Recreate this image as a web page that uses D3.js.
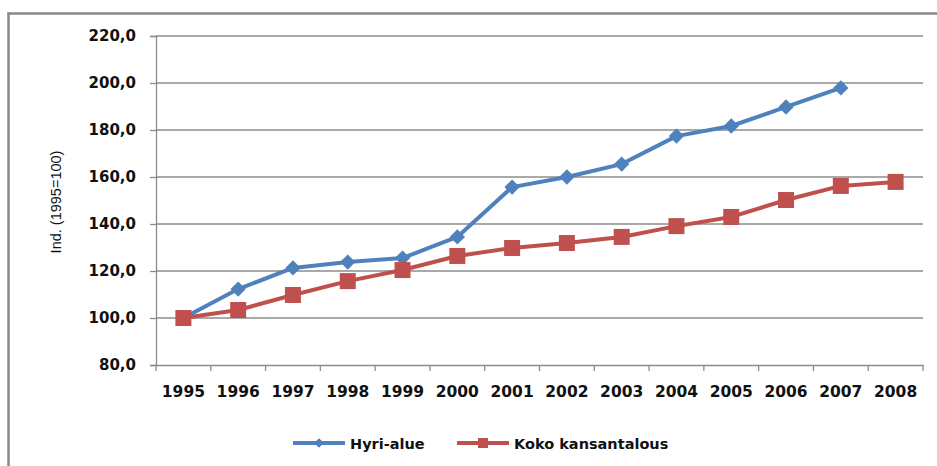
<!DOCTYPE html>
<html>
<head>
<meta charset="utf-8">
<script src="https://cdn.jsdelivr.net/npm/d3@7"></script>
<style>
  body { margin: 0; background: #fff; }
  .grid line { stroke: #8c8c8c; stroke-width: 1.3; }
  .axis path, .axis line { stroke: #8c8c8c; stroke-width: 1.3; }
</style>
</head>
<body>
<div id="chart"></div>
<script>
const years = ["1995", "1996", "1997", "1998", "1999", "2000", "2001", "2002", "2003", "2004", "2005", "2006", "2007", "2008"];
const hyriAlue = [100, 112.3, 121.3, 123.8, 125.5, 134.5, 155.7, 160.0, 165.5, 177.4, 181.7, 189.8, 197.9, null];
const kokoKansantalous = [100, 103.4, 109.8, 115.7, 120.4, 126.4, 129.8, 131.9, 134.5, 139.1, 143.0, 150.2, 156.2, 157.9];
const yTicks = [80, 100, 120, 140, 160, 180, 200, 220];
const seriesNames = ["Hyri-alue", "Koko kansantalous"];
const colors = ["#4f81bd", "#c0504d"];

const width = 937, height = 466;
var margin = { top: 36, right: 14, bottom: 101, left: 156 },
  innerWidth = width - margin.left - margin.right,
  innerHeight = height - margin.top - margin.bottom;

const svg = d3.select("#chart").append("svg")
  .attr("width", width)
  .attr("height", height);

// outer frame: only left and top edges are visible
svg.append("line")
  .attr("x1", 8.5).attr("x2", 8.5).attr("y1", 12.5).attr("y2", height)
  .attr("stroke", "#888").attr("stroke-width", 2.5);
svg.append("line")
  .attr("x1", 7.5).attr("x2", width).attr("y1", 13.5).attr("y2", 13.5)
  .attr("stroke", "#888").attr("stroke-width", 2.5);

const g = svg.append("g").attr("transform", "translate(" + margin.left + "," + margin.top + ")");

var xScale = d3.scaleBand().domain(years).range([0, innerWidth]);
var yScale = d3.scaleLinear().domain([80, 220]).range([innerHeight, 0]);

// gridlines
g.append("g").attr("class", "grid")
  .selectAll("line")
  .data(yTicks.slice(1))
  .enter().append("line")
  .attr("x1", 0).attr("x2", innerWidth)
  .attr("y1", d => yScale(d)).attr("y2", d => yScale(d));

// y axis
var yAxis = d3.axisLeft(yScale)
  .tickValues(yTicks)
  .tickSize(6)
  .tickPadding(14)
  .tickFormat(d => d3.format(".1f")(d).replace(".", ","));
var yAxisG = g.append("g").attr("class", "y axis").call(yAxis)
  .attr("font-family", "'DejaVu Sans', Verdana, sans-serif")
  .attr("font-size", 15)
  .attr("font-weight", "bold");
yAxisG.selectAll("text").attr("fill", "#111");

// x axis, ticks between categories
var xAxisG = g.append("g").attr("class", "x axis")
  .attr("transform", "translate(0," + innerHeight + ")")
  .call(d3.axisBottom(xScale).tickSize(0).tickPadding(21))
  .attr("font-family", "'DejaVu Sans', Verdana, sans-serif")
  .attr("font-size", 15.5)
  .attr("font-weight", "bold");
xAxisG.selectAll("text").attr("fill", "#111");
xAxisG.selectAll(".tick line").remove();
xAxisG.selectAll(".sep")
  .data(years.concat(["end"]))
  .enter().append("line")
  .attr("x1", (d, i) => i * xScale.bandwidth())
  .attr("x2", (d, i) => i * xScale.bandwidth())
  .attr("y1", 0).attr("y2", 6)
  .attr("stroke", "#8c8c8c").attr("stroke-width", 1.3);

// y label
svg.append("text")
  .attr("transform", "translate(61," + 202 + ") rotate(-90)")
  .attr("text-anchor", "middle")
  .attr("font-family", "'Liberation Sans', Arial, sans-serif")
  .attr("font-size", 14.5)
  .attr("fill", "#111")
  .text("Ind. (1995=100)");

const cx = d => xScale(d) + xScale.bandwidth() / 2;
const allSeries = [hyriAlue, kokoKansantalous];

allSeries.forEach(function (values, si) {
  var pts = years.map((y, i) => ({ year: y, value: values[i] })).filter(d => d.value != null);
  var line = d3.line().x(d => cx(d.year)).y(d => yScale(d.value));
  g.append("path")
    .datum(pts)
    .attr("fill", "none")
    .attr("stroke", colors[si])
    .attr("stroke-width", 4)
    .attr("stroke-linejoin", "round")
    .attr("d", line);

  var sym = si === 0 ? d3.symbol().type(d3.symbolDiamond2).size(150) : d3.symbol().type(d3.symbolSquare).size(256);
  g.append("g").selectAll("path")
    .data(pts)
    .enter().append("path")
    .attr("transform", d => "translate(" + cx(d.year) + "," + yScale(d.value) + ")")
    .attr("d", sym)
    .attr("fill", colors[si]);
});

// legend
var legendX = [293, 457];
var legend = svg.append("g").attr("transform", "translate(0,443)");
seriesNames.forEach(function (name, i) {
  var item = legend.append("g").attr("transform", "translate(" + legendX[i] + ",0)");
  item.append("line")
    .attr("x1", 0).attr("x2", 52)
    .attr("stroke", colors[i]).attr("stroke-width", 4);
  item.append("path")
    .attr("transform", "translate(26,0)")
    .attr("d", i === 0 ? d3.symbol().type(d3.symbolDiamond2).size(60)() : d3.symbol().type(d3.symbolSquare).size(100)())
    .attr("fill", colors[i]);
  item.append("text")
    .attr("x", 57).attr("y", 5.5)
    .attr("font-family", "'DejaVu Sans', Verdana, sans-serif")
    .attr("font-weight", "bold")
    .attr("font-size", 14.5)
    .attr("fill", "#111")
    .text(name);
});
</script>
</body>
</html>
